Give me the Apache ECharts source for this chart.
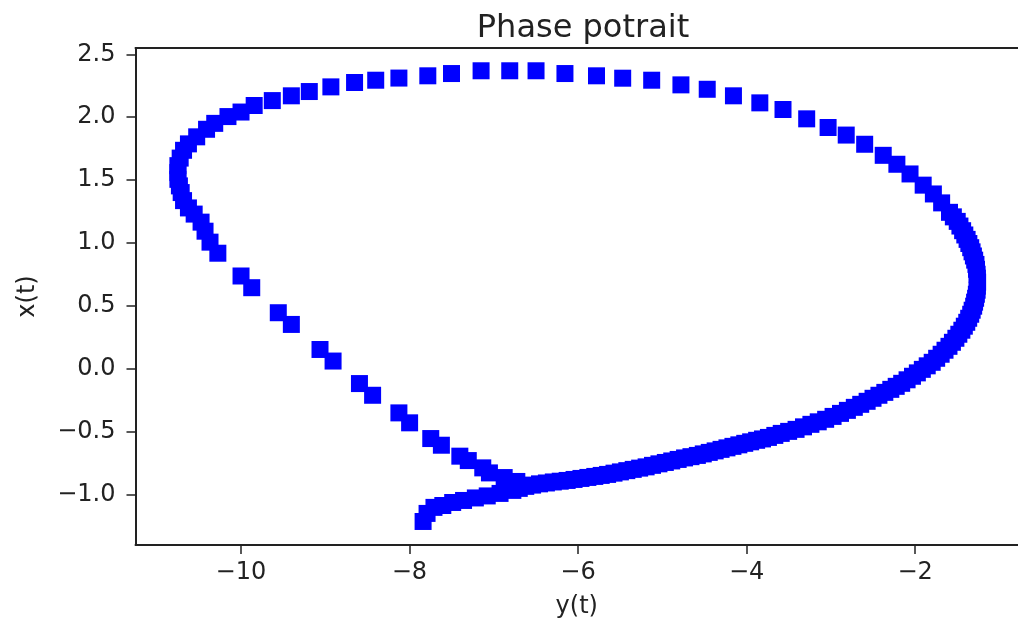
<!DOCTYPE html>
<html>
<head>
<meta charset="utf-8">
<script src="https://cdn.jsdelivr.net/npm/echarts@6/dist/echarts.min.js"></script>
<style>
html,body{margin:0;padding:0;background:#fff;}
#chart{width:1018px;height:624px;}
</style>
</head>
<body>
<div id="chart"></div>
<script>
// first pass, horizontal value: y(t)
const yt = [
-7.838,-7.791,-7.709,-7.604,-7.487,-7.358,-7.218,-7.077,-6.925,-6.773,
-6.620,-6.457,-6.293,-6.129,-5.965,-5.801,-5.649,-5.497,-5.345,-5.192,
-5.040,-4.888,-4.736,-4.584,-4.443,-4.303,-4.162,-4.022,-3.881,-3.741,
-3.589,-3.413,-3.237,-3.062,-2.886,-2.722,-2.570,-2.430,-2.289,-2.160,
-2.032,-1.915,-1.798,-1.692,-1.599,-1.517,-1.446,-1.388,-1.341,-1.306,
-1.283,-1.265,-1.259,-1.265,-1.279,-1.309,-1.341,-1.384,-1.437,-1.501,
-1.593,-1.686,-1.784,-1.905,-2.061,-2.217,-2.379,-2.599,-2.818,-3.033,
-3.287,-3.568,-3.843,-4.156,-4.467,-4.779,-5.126,-5.470,-5.781,-6.155,
-6.498,-6.810,-7.150,-7.501,-7.782,-8.125,-8.400,-8.651,-8.932,-9.188,
-9.401,-9.627,-9.842,-9.998,-10.153,-10.310,-10.407,-10.524,-10.622,-10.680,
-10.720,-10.747,-10.747,-10.747,-10.729,-10.708,-10.680,-10.622,-10.554,-10.472,
-10.425,-10.366,-10.273,-9.998,-9.871,-9.556,-9.401,-9.061,-8.906,-8.593,
-8.437,-8.125,-7.998,-7.747,-7.621,-7.402,-7.302,-7.130,-7.051,-6.876,
-6.726
];
// first pass, vertical value: x(t)
const xt = [
-1.213,-1.149,-1.101,-1.086,-1.062,-1.046,-1.026,-1.010,-0.990,-0.966,
-0.934,-0.914,-0.899,-0.887,-0.871,-0.855,-0.839,-0.819,-0.799,-0.779,
-0.755,-0.732,-0.708,-0.688,-0.664,-0.640,-0.616,-0.592,-0.568,-0.545,
-0.513,-0.481,-0.441,-0.401,-0.354,-0.306,-0.258,-0.210,-0.163,-0.115,
-0.059,-0.004,0.052,0.116,0.179,0.243,0.307,0.370,0.434,0.498,
0.561,0.625,0.689,0.752,0.830,0.897,0.963,1.029,1.098,1.172,
1.244,1.319,1.390,1.460,1.549,1.626,1.697,1.785,1.858,1.918,
1.987,2.061,2.114,2.170,2.222,2.257,2.294,2.310,2.329,2.347,
2.369,2.369,2.369,2.347,2.329,2.311,2.294,2.276,2.241,2.204,
2.170,2.132,2.093,2.041,2.005,1.951,1.904,1.844,1.788,1.737,
1.675,1.615,1.560,1.506,1.454,1.401,1.337,1.279,1.230,1.166,
1.094,1.007,0.919,0.738,0.645,0.446,0.353,0.154,0.062,-0.117,
-0.210,-0.350,-0.429,-0.554,-0.607,-0.694,-0.729,-0.787,-0.827,-0.864,
-0.895
];
// second pass over the lower and right part of the cycle
const yt2 = [
-6.697,-6.539,-6.375,-6.211,-6.047,-5.883,-5.725,-5.573,-5.421,-5.269,
-5.116,-4.964,-4.812,-4.660,-4.514,-4.373,-4.233,-4.092,-3.952,-3.811,
-3.665,-3.501,-3.325,-3.150,-2.974,-2.804,-2.646,-2.500,-2.360,-2.225,
-2.096,-1.974,-1.857,-1.745,-1.646,-1.558,-1.482,-1.417,-1.365,-1.324,
-1.295,-1.274,-1.262,-1.262,-1.272,-1.294,-1.325,-1.363,-1.411,-1.469,
-1.547
];
const xt2 = [
-0.950,-0.924,-0.907,-0.893,-0.879,-0.863,-0.847,-0.829,-0.809,-0.789,
-0.767,-0.744,-0.720,-0.698,-0.676,-0.652,-0.628,-0.604,-0.580,-0.557,
-0.529,-0.497,-0.461,-0.421,-0.378,-0.330,-0.282,-0.234,-0.187,-0.139,
-0.087,-0.032,0.024,0.084,0.148,0.211,0.275,0.339,0.402,0.466,
0.530,0.593,0.657,0.721,0.791,0.864,0.930,0.996,1.064,1.135,
1.208
];
const xTicks = [-10, -8, -6, -4, -2];
const yTicks = [-1.0, -0.5, 0.0, 0.5, 1.0, 1.5, 2.0, 2.5];

const points = yt.map((v, i) => [v, xt[i]]).concat(yt2.map((v, i) => [v, xt2[i]]));
const FONT = 'DejaVu Sans';
const INK = '#222222';
const minus = s => s.replace('-', '\u2212');

const chart = echarts.init(document.getElementById('chart'), null, {renderer: 'canvas'});
chart.setOption({
  animation: false,
  backgroundColor: '#ffffff',
  title: {
    text: 'Phase potrait',
    left: 578,
    top: 8,
    textAlign: 'center',
    textStyle: {fontFamily: FONT, fontSize: 32, fontWeight: 'normal', color: INK}
  },
  grid: {left: 135.5, top: 48, width: 894.5, height: 497, containLabel: false},
  xAxis: [{
    type: 'value',
    position: 'bottom',
    min: -11.25,
    max: -0.78,
    name: 'y(t)',
    nameLocation: 'middle',
    nameGap: 50,
    nameTextStyle: {fontFamily: FONT, fontSize: 24, color: INK},
    axisLine: {show: true, onZero: false, lineStyle: {color: INK, width: 2}},
    axisTick: {show: true, length: 9, customValues: xTicks, lineStyle: {color: INK, width: 1.5}},
    axisLabel: {
      customValues: xTicks, margin: 16,
      fontFamily: FONT, fontSize: 24, color: INK,
      formatter: v => minus(String(v))
    },
    splitLine: {show: false}
  }, {
    type: 'value',
    position: 'top',
    min: -11.25,
    max: -0.78,
    axisLine: {show: true, onZero: false, lineStyle: {color: INK, width: 2}},
    axisTick: {show: false},
    axisLabel: {show: false},
    splitLine: {show: false}
  }],
  yAxis: {
    type: 'value',
    min: -1.40,
    max: 2.55,
    name: 'x(t)',
    nameLocation: 'middle',
    nameGap: 96,
    nameTextStyle: {fontFamily: FONT, fontSize: 24, color: INK},
    axisLine: {show: true, onZero: false, lineStyle: {color: INK, width: 2}},
    axisTick: {show: true, length: 9, customValues: yTicks, lineStyle: {color: INK, width: 1.5}},
    axisLabel: {
      customValues: yTicks, margin: 20,
      fontFamily: FONT, fontSize: 24, color: INK,
      formatter: v => minus(Number(v).toFixed(1))
    },
    splitLine: {show: false}
  },
  series: [{
    type: 'scatter',
    xAxisIndex: 0,
    yAxisIndex: 0,
    symbol: 'rect',
    symbolSize: 17,
    itemStyle: {color: '#0000ff', opacity: 1},
    data: points
  }]
});
</script>
</body>
</html>
